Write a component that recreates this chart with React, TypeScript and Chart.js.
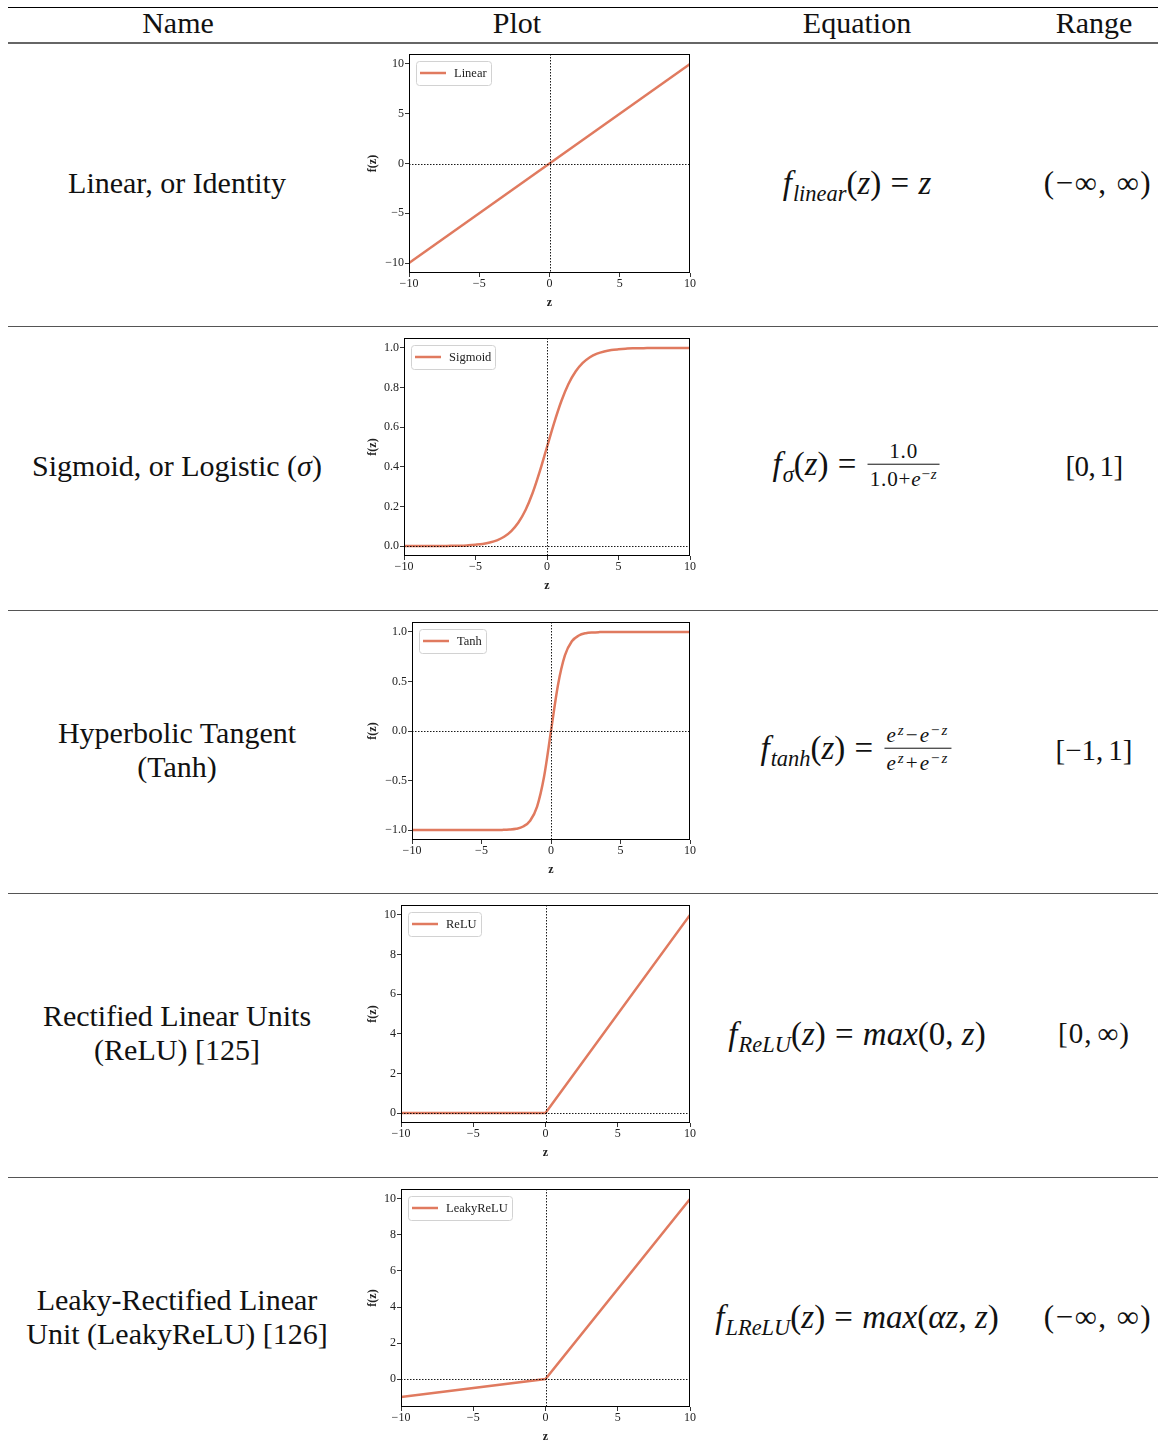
import React, { useEffect, useRef } from "react";
import { Chart, registerables } from "chart.js";

Chart.register(...registerables);

// ---------------- data ----------------
const zSamples = [
  -10, -9.5, -9, -8.5, -8, -7.5, -7, -6.5, -6, -5.5, -5, -4.5, -4, -3.5, -3, -2.5, -2, -1.5, -1, -0.5,
  0, 0.5, 1, 1.5, 2, 2.5, 3, 3.5, 4, 4.5, 5, 5.5, 6, 6.5, 7, 7.5, 8, 8.5, 9, 9.5, 10,
];

const linearZ = [-10, 0, 10];
const linearY = [-10, 0, 10];

const sigmoidY = [
  0.0, 0.0, 0.0, 0.0, 0.0, 0.001, 0.001, 0.002, 0.002, 0.004, 0.007, 0.011, 0.018, 0.029, 0.047, 0.076,
  0.119, 0.182, 0.269, 0.378, 0.5, 0.622, 0.731, 0.818, 0.881, 0.924, 0.953, 0.971, 0.982, 0.989, 0.993,
  0.996, 0.998, 0.998, 0.999, 0.999, 1.0, 1.0, 1.0, 1.0, 1.0,
];

const tanhY = [
  -1.0, -1.0, -1.0, -1.0, -1.0, -1.0, -1.0, -1.0, -1.0, -1.0, -1.0, -1.0, -0.999, -0.998, -0.995, -0.987,
  -0.964, -0.905, -0.762, -0.462, 0.0, 0.462, 0.762, 0.905, 0.964, 0.987, 0.995, 0.998, 0.999, 1.0, 1.0,
  1.0, 1.0, 1.0, 1.0, 1.0, 1.0, 1.0, 1.0, 1.0, 1.0,
];

const reluZ = [-10, 0, 10];
const reluY = [0, 0, 10];

const leakyZ = [-10, 0, 10];
const leakyY = [-1, 0, 10];

const xTicks = [-10, -5, 0, 5, 10];
const linearTicks = [-10, -5, 0, 5, 10];
const sigmoidTicks = [0, 0.2, 0.4, 0.6, 0.8, 1.0];
const tanhTicks = [-1, -0.5, 0, 0.5, 1];
const reluTicks = [0, 2, 4, 6, 8, 10];
const leakyTicks = [0, 2, 4, 6, 8, 10];

const seriesNames = ["Linear", "Sigmoid", "Tanh", "ReLU", "LeakyReLU"];

// ---------------- styling / layout ----------------
const COLOR = "#E07A5F";
const SERIF = '"Liberation Serif", "Times New Roman", serif';
const CANVAS_LEFT = 362;
const CANVAS_W = 336;
const PAD_TOP = 10;
const PAD_RIGHT = 8;
const X_AXIS_H = 38;

type Spec = {
  label: string;
  z: number[];
  y: number[];
  yMin: number;
  yMax: number;
  yTicks: number[];
  dec: number;
  smooth: boolean;
  plotLeft: number;
  plotTop: number;
  plotBottom: number;
};

const specs: Spec[] = [
  { label: seriesNames[0], z: linearZ, y: linearY, yMin: -11, yMax: 11, yTicks: linearTicks, dec: 0, smooth: false, plotLeft: 409, plotTop: 54, plotBottom: 273 },
  { label: seriesNames[1], z: zSamples, y: sigmoidY, yMin: -0.05, yMax: 1.05, yTicks: sigmoidTicks, dec: 1, smooth: true, plotLeft: 404, plotTop: 338, plotBottom: 556 },
  { label: seriesNames[2], z: zSamples, y: tanhY, yMin: -1.1, yMax: 1.1, yTicks: tanhTicks, dec: 1, smooth: true, plotLeft: 412, plotTop: 622, plotBottom: 840 },
  { label: seriesNames[3], z: reluZ, y: reluY, yMin: -0.5, yMax: 10.5, yTicks: reluTicks, dec: 0, smooth: false, plotLeft: 401, plotTop: 905, plotBottom: 1123 },
  { label: seriesNames[4], z: leakyZ, y: leakyY, yMin: -1.55, yMax: 10.55, yTicks: leakyTicks, dec: 0, smooth: false, plotLeft: 401, plotTop: 1189, plotBottom: 1407 },
];

const fmt = (v: number, dec: number) => v.toFixed(dec).replace("-", "\u2212");

const decorPlugin = {
  id: "decor",
  afterDatasetsDraw(chart: any) {
    const { ctx, chartArea: ca, scales } = chart;
    const px = Math.round(scales.x.getPixelForValue(0)) + 0.5;
    const py = Math.round(scales.y.getPixelForValue(0)) + 0.5;
    ctx.save();
    ctx.strokeStyle = "#000";
    ctx.lineWidth = 0.9;
    ctx.setLineDash([1.5, 1.5]);
    ctx.beginPath();
    ctx.moveTo(px, ca.top);
    ctx.lineTo(px, ca.bottom);
    ctx.moveTo(ca.left, py);
    ctx.lineTo(ca.right, py);
    ctx.stroke();
    ctx.restore();
  },
  afterDraw(chart: any) {
    const { ctx, chartArea: ca } = chart;
    const ds = chart.data.datasets[0];
    ctx.save();
    // frame
    ctx.strokeStyle = "#000";
    ctx.lineWidth = 1;
    ctx.setLineDash([]);
    const l = Math.round(ca.left) + 0.5;
    const t = Math.round(ca.top) + 0.5;
    const r = Math.round(ca.right) - 0.5;
    const b = Math.round(ca.bottom) - 0.5;
    ctx.strokeRect(l, t, r - l, b - t);
    // legend
    ctx.font = `12.5px ${SERIF}`;
    const tw = ctx.measureText(ds.label).width;
    const bx = Math.round(ca.left + 6.5) + 0.5;
    const by = Math.round(ca.top + 7) + 0.5;
    const bw = Math.round(3.5 + 26 + 8 + tw + 4.5);
    const bh = 24;
    ctx.beginPath();
    (ctx as any).roundRect(bx, by, bw, bh, 3);
    ctx.fillStyle = "rgba(255,255,255,0.85)";
    ctx.fill();
    ctx.strokeStyle = "#d2d2d2";
    ctx.lineWidth = 1;
    ctx.stroke();
    ctx.beginPath();
    ctx.strokeStyle = ds.borderColor;
    ctx.lineWidth = 2.5;
    ctx.moveTo(bx + 3.5, by + 11.5);
    ctx.lineTo(bx + 29.5, by + 11.5);
    ctx.stroke();
    ctx.fillStyle = "#222";
    ctx.textBaseline = "middle";
    ctx.textAlign = "left";
    ctx.fillText(ds.label, bx + 37.5, by + 12.5);
    ctx.restore();
  },
};

function Plot({ spec }: { spec: Spec }) {
  const ref = useRef<HTMLCanvasElement>(null);
  const top = spec.plotTop - PAD_TOP;
  const height = spec.plotBottom - spec.plotTop + PAD_TOP + X_AXIS_H;
  const yAxisW = spec.plotLeft - CANVAS_LEFT;

  useEffect(() => {
    const tickFont = { family: SERIF, size: 12 };
    const titleFont = { family: SERIF, size: 12, weight: "bold" as const };
    const chart = new Chart(ref.current!, {
      type: "line",
      data: {
        datasets: [
          {
            label: spec.label,
            data: spec.z.map((x, i) => ({ x, y: spec.y[i] })),
            borderColor: COLOR,
            backgroundColor: COLOR,
            borderWidth: 2.5,
            pointRadius: 0,
            fill: false,
            cubicInterpolationMode: spec.smooth ? "monotone" : "default",
          },
        ],
      },
      options: {
        responsive: false,
        animation: false,
        layout: { padding: { top: PAD_TOP, right: PAD_RIGHT, left: 0, bottom: 0 } },
        plugins: { legend: { display: false }, tooltip: { enabled: false } },
        scales: {
          x: {
            type: "linear",
            min: -10,
            max: 10,
            afterBuildTicks: (s: any) => {
              s.ticks = xTicks.map((v) => ({ value: v }));
            },
            afterFit: (s: any) => {
              s.height = X_AXIS_H;
            },
            ticks: {
              font: tickFont,
              color: "#222",
              padding: 0,
              maxRotation: 0,
              autoSkip: false,
              callback: (v: any) => fmt(Number(v), 0),
            },
            grid: { drawOnChartArea: false, drawTicks: true, tickLength: 4, color: "#000", lineWidth: 0.8 },
            border: { display: false },
            title: { display: true, text: "z", font: titleFont, color: "#222", padding: { top: 0, bottom: 1 } },
          },
          y: {
            type: "linear",
            min: spec.yMin,
            max: spec.yMax,
            afterBuildTicks: (s: any) => {
              s.ticks = spec.yTicks.map((v) => ({ value: v }));
            },
            afterFit: (s: any) => {
              s.width = yAxisW;
            },
            ticks: {
              font: tickFont,
              color: "#222",
              padding: 1,
              autoSkip: false,
              callback: (v: any) => fmt(Number(v), spec.dec),
            },
            grid: { drawOnChartArea: false, drawTicks: true, tickLength: 4, color: "#000", lineWidth: 0.8 },
            border: { display: false },
            title: { display: true, text: "f(z)", font: titleFont, color: "#222", padding: { top: 4, bottom: 0 } },
          },
        },
      },
      plugins: [decorPlugin],
    } as any);
    return () => chart.destroy();
  }, []);

  return (
    <canvas
      ref={ref}
      width={CANVAS_W}
      height={height}
      style={{ position: "absolute", left: CANVAS_LEFT, top, width: CANVAS_W, height }}
    />
  );
}

// ---------------- text helpers ----------------
const Txt = ({
  x,
  y,
  size = 30,
  spacing = 0,
  children,
}: {
  x: number;
  y: number;
  size?: number;
  spacing?: number;
  children: React.ReactNode;
}) => (
  <div
    style={{
      position: "absolute",
      left: x,
      top: y,
      transform: "translate(-50%,-50%)",
      whiteSpace: "nowrap",
      textAlign: "center",
      fontFamily: SERIF,
      fontSize: size,
      letterSpacing: spacing,
      lineHeight: "34px",
      color: "#111",
    }}
  >
    {children}
  </div>
);

const Sub = ({ children }: { children: React.ReactNode }) => (
  <span style={{ fontSize: "0.68em", position: "relative", top: "0.3em", lineHeight: 0, fontStyle: "italic", marginLeft: 1 }}>
    {children}
  </span>
);
const Sup = ({ children }: { children: React.ReactNode }) => (
  <span style={{ fontSize: "0.72em", position: "relative", top: "-0.45em", lineHeight: 0 }}>{children}</span>
);
const Eq = () => <span style={{ margin: "0 0.28em" }}>=</span>;
const Th = ({ w = 5 }: { w?: number }) => <span style={{ display: "inline-block", width: w }} />;
const Frac = ({ num, den, ls = 0.5 }: { num: React.ReactNode; den: React.ReactNode; ls?: number }) => (
  <span
    style={{
      display: "inline-flex",
      flexDirection: "column",
      alignItems: "center",
      verticalAlign: "middle",
      fontSize: "0.64em",
      lineHeight: "1.15",
      margin: "0 2px 0 2px",
      position: "relative",
      top: "-2px",
      letterSpacing: ls,
    }}
  >
    <span style={{ padding: "0 2px 1px" }}>{num}</span>
    <span style={{ borderTop: "1px solid #111", padding: "2px 2px 0" }}>{den}</span>
  </span>
);

const rules = [326, 610, 893, 1177];
const EQ = 33;

export default function App() {
  return (
    <div
      style={{
        position: "absolute",
        left: 0,
        top: 0,
        width: 1158,
        height: 1454,
        overflow: "hidden",
        background: "#fff",
      }}
    >
      {/* rules */}
      <div style={{ position: "absolute", left: 8, right: 0, top: 7, height: 1, background: "#000" }} />
      <div style={{ position: "absolute", left: 8, right: 0, top: 42, height: 2, background: "#666" }} />
      {rules.map((r) => (
        <div key={r} style={{ position: "absolute", left: 8, right: 0, top: r, height: 1, background: "#555" }} />
      ))}

      {/* header */}
      <Txt x={178} y={23}>Name</Txt>
      <Txt x={517} y={23}>Plot</Txt>
      <Txt x={857} y={23}>Equation</Txt>
      <Txt x={1094} y={23}>Range</Txt>

      {/* names */}
      <Txt x={177} y={183}>Linear, or Identity</Txt>
      <Txt x={177} y={466}>
        Sigmoid, or Logistic (<i>σ</i>)
      </Txt>
      <Txt x={177} y={750}>
        Hyperbolic Tangent
        <br />
        (Tanh)
      </Txt>
      <Txt x={177} y={1033}>
        Rectified Linear Units
        <br />
        (ReLU) [125]
      </Txt>
      <Txt x={177} y={1317}>
        Leaky-Rectified Linear
        <br />
        Unit (LeakyReLU) [126]
      </Txt>

      {/* equations */}
      <Txt x={857} y={183} size={EQ}>
        <i>f</i>
        <Sub>linear</Sub>(<i>z</i>)<Eq /><i>z</i>
      </Txt>
      <Txt x={857} y={467} size={EQ}>
        <i>f</i>
        <Sub>σ</Sub>(<i>z</i>)<Eq />
        <Frac
          ls={0.8}
          num={<span>1.0</span>}
          den={
            <span>
              1.0+<i>e</i>
              <Sup>
                −<i>z</i>
              </Sup>
            </span>
          }
        />
      </Txt>
      <Txt x={857} y={751} size={EQ}>
        <i>f</i>
        <Sub>tanh</Sub>(<i>z</i>)<Eq />
        <Frac
          ls={2}
          num={
            <span>
              <i>e</i>
              <Sup>
                <i>z</i>
              </Sup>
              −<i>e</i>
              <Sup>
                −<i>z</i>
              </Sup>
            </span>
          }
          den={
            <span>
              <i>e</i>
              <Sup>
                <i>z</i>
              </Sup>
              +<i>e</i>
              <Sup>
                −<i>z</i>
              </Sup>
            </span>
          }
        />
      </Txt>
      <Txt x={857} y={1034} size={EQ}>
        <i>f</i>
        <Sub>ReLU</Sub>(<i>z</i>)<Eq />
        <i>max</i>(0, <i>z</i>)
      </Txt>
      <Txt x={857} y={1317} size={EQ}>
        <i>f</i>
        <Sub>LReLU</Sub>(<i>z</i>)<Eq />
        <i>max</i>(<i>αz</i>, <i>z</i>)
      </Txt>

      {/* ranges */}
      <Txt x={1098} y={183} size={31} spacing={1.5}>(−∞, ∞)</Txt>
      <Txt x={1094} y={466} size={29} spacing={-0.5}>
        [0,<Th w={4} />1]
      </Txt>
      <Txt x={1094} y={750} size={29}>
        [−1,<Th w={5} />1]
      </Txt>
      <Txt x={1094} y={1033} size={29} spacing={1}>
        [0,<Th w={5} />∞)
      </Txt>
      <Txt x={1098} y={1317} size={31} spacing={1.5}>(−∞, ∞)</Txt>

      {specs.map((s) => (
        <Plot key={s.label} spec={s} />
      ))}
    </div>
  );
}
